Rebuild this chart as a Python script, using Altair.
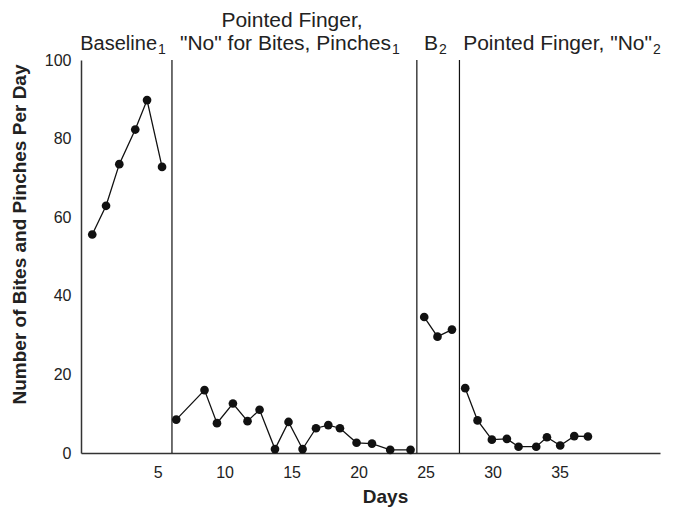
import altair as alt
import pandas as pd

# ---- data ----
baseline1_days = [0.12, 1.15, 2.14, 3.33, 4.21, 5.33]
baseline1_vals = [55.6, 62.9, 73.5, 82.3, 89.8, 72.8]
treat1_days = [6.39, 8.50, 9.43, 10.62, 11.71, 12.61, 13.76, 14.77, 15.82,
               16.82, 17.74, 18.61, 19.85, 21.0, 22.36, 23.88]
treat1_vals = [8.5, 16.0, 7.6, 12.6, 8.1, 11.0, 1.0, 7.9, 1.0,
               6.3, 7.1, 6.3, 2.6, 2.4, 0.8, 0.8]
baseline2_days = [24.9, 25.89, 26.97]
baseline2_vals = [34.6, 29.6, 31.4]
treat2_days = [27.96, 28.88, 29.95, 31.07, 31.94, 33.26, 34.06, 35.05, 36.1, 37.12]
treat2_vals = [16.5, 8.3, 3.4, 3.6, 1.6, 1.6, 4.0, 1.9, 4.3, 4.2]
phase_change_days = [6.07, 24.35, 27.53]
x_ticks = [5, 10, 15, 20, 25, 30, 35]
y_ticks = [0, 20, 40, 60, 80, 100]

FONT = "Liberation Sans"
INK = "#222222"

rows = []
for name, ds, vs in [("A1", baseline1_days, baseline1_vals),
                     ("B1", treat1_days, treat1_vals),
                     ("A2", baseline2_days, baseline2_vals),
                     ("B2", treat2_days, treat2_vals)]:
    for d, v in zip(ds, vs):
        rows.append({"day": d, "value": v, "phase": name})
df = pd.DataFrame(rows)
phases = pd.DataFrame({"day": phase_change_days})

W, H = 579, 393

x_enc = alt.X("day:Q",
              scale=alt.Scale(domain=[-0.72, 42.5], nice=False, zero=False),
              axis=alt.Axis(values=x_ticks, ticks=False, grid=False,
                            domainColor="#333333", domainWidth=1.5,
                            labelFont=FONT, labelFontSize=16, labelColor=INK,
                            labelPadding=11,
                            title="Days", titleFont=FONT, titleFontSize=19,
                            titleFontWeight="bold", titleColor=INK,
                            titleX=304, titleY=49, titleBaseline="alphabetic"))
y_enc = alt.Y("value:Q",
              scale=alt.Scale(domain=[0, 100], nice=False),
              axis=alt.Axis(values=y_ticks, ticks=False, grid=False,
                            domainColor="#333333", domainWidth=1.5,
                            labelFont=FONT, labelFontSize=16, labelColor=INK,
                            labelPadding=10,
                            title="Number of Bites and Pinches Per Day",
                            titleFont=FONT, titleFontSize=19,
                            titleFontWeight="bold", titleColor=INK,
                            titleX=-62, titleY=174, titleBaseline="middle"))

base = alt.Chart(df)
lines = base.mark_line(color="#111111", strokeWidth=1.3).encode(
    x=x_enc, y=y_enc, detail="phase:N")
points = base.mark_circle(color="#111111", size=75, opacity=1).encode(
    x="day:Q", y="value:Q")
rules = alt.Chart(phases).mark_rule(color="#111111", strokeWidth=1.2).encode(
    x="day:Q", y=alt.value(0), y2=alt.value(H))


def label(text, px, py, size=21, align="right"):
    return alt.Chart(pd.DataFrame({"t": [text]})).mark_text(
        align=align, baseline="alphabetic", font=FONT, fontSize=size, color=INK
    ).encode(x=alt.value(px), y=alt.value(py), text="t:N")


ROW2 = -10
ROW1 = -33
SUB = 14
annotations = [
    label("Baseline", 76, ROW2, 20),
    label("1", 77, ROW2 + 4, SUB, "left"),
    label("Pointed Finger,", 211, ROW1, align="center"),
    label('"No" for Bites, Pinches', 310, ROW2),
    label("1", 311, ROW2 + 4, SUB, "left"),
    label("B", 357, ROW2),
    label("2", 358, ROW2 + 4, SUB, "left"),
    label('Pointed Finger, "No"', 571, ROW2),
    label("2", 572, ROW2 + 4, SUB, "left"),
]

chart = alt.layer(rules, lines, points, *annotations).properties(
    width=W, height=H,
    autosize=alt.AutoSizeParams(type="none"),
    padding={"left": 73, "top": 52, "right": 10, "bottom": 55},
).configure_view(stroke=None)

chart.save("out.html", embed_options={"renderer": "svg", "actions": False})
